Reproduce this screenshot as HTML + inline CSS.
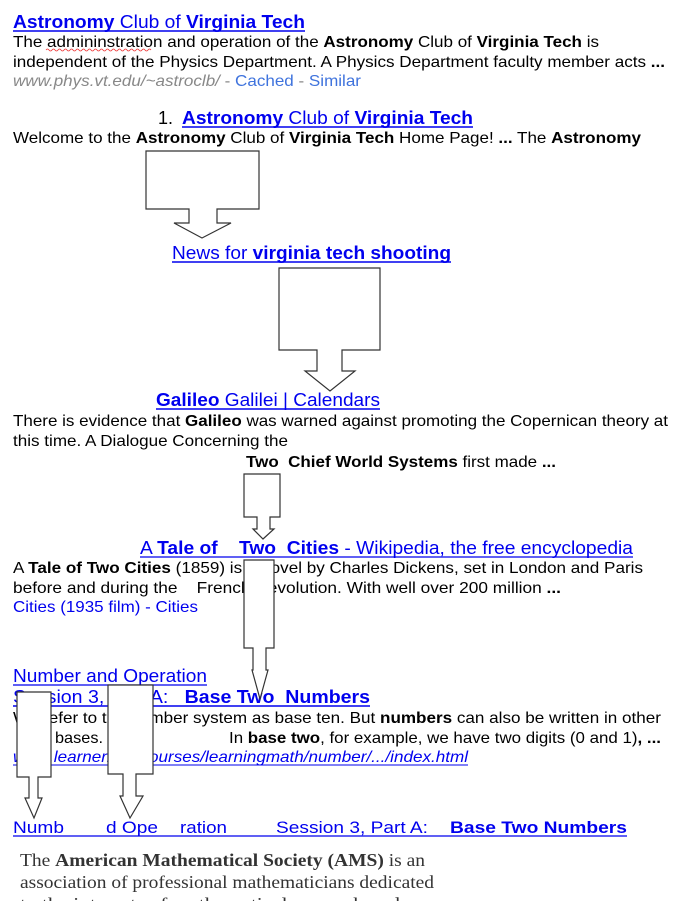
<!DOCTYPE html>
<html><head><meta charset="utf-8"><style>
html,body{margin:0;padding:0;background:#fff;width:696px;height:901px;overflow:hidden}
svg{display:block}
text{font-family:"Liberation Sans",Arial,sans-serif;font-size:16px;fill:#000;white-space:pre}
.t{font-size:18px;fill:#0000ee}
.b{font-weight:bold}
.l{fill:#0000ee;font-size:17px}
.s{font-family:"Liberation Serif","Times New Roman",serif;font-size:18px;fill:#333}
</style></head><body>
<svg width="696" height="901" viewBox="0 0 696 901" xmlns="http://www.w3.org/2000/svg" xml:space="preserve">
<g>
<text class="t" x="13" y="28" textLength="292" lengthAdjust="spacingAndGlyphs"><tspan class="b">Astronomy</tspan> Club of <tspan class="b">Virginia Tech</tspan></text>
<line x1="13" y1="31" x2="305" y2="31" stroke="#0000ee" stroke-width="1.5"/>
<text x="13" y="47" textLength="586" lengthAdjust="spacingAndGlyphs">The admininstration and operation of the <tspan class="b">Astronomy</tspan> Club of <tspan class="b">Virginia Tech</tspan> is</text>
<path d="M46 50 q1.5 -2 3 0 t3 0 t3 0 t3 0 t3 0 t3 0 t3 0 t3 0 t3 0 t3 0 t3 0 t3 0 t3 0 t3 0 t3 0 t3 0 t3 0 t3 0 t3 0 t3 0 t3 0 t3 0 t3 0 t3 0 t3 0 t3 0 t3 0 t3 0 t3 0 t3 0 t3 0 t3 0 t3 0 t3 0 t3 0" stroke="#e33" fill="none" stroke-width="0.8"/>
<text x="13" y="67" textLength="652" lengthAdjust="spacingAndGlyphs">independent of the Physics Department. A Physics Department faculty member acts <tspan class="b">...</tspan></text>
<text x="13" y="86" textLength="348" lengthAdjust="spacingAndGlyphs"><tspan style="fill:#888;font-style:italic">www.phys.vt.edu/~astroclb/</tspan><tspan style="fill:#888"> - </tspan><tspan style="fill:#3f73dd">Cached</tspan><tspan style="fill:#888"> - </tspan><tspan style="fill:#3f73dd">Similar</tspan></text>

<text x="158" y="124" style="font-size:18px">1.</text>
<text class="t" x="182" y="124" textLength="291" lengthAdjust="spacingAndGlyphs"><tspan class="b">Astronomy</tspan> Club of <tspan class="b">Virginia Tech</tspan></text>
<line x1="182" y1="127" x2="473" y2="127" stroke="#0000ee" stroke-width="1.5"/>
<text x="13" y="143" textLength="628" lengthAdjust="spacingAndGlyphs">Welcome to the <tspan class="b">Astronomy</tspan> Club of <tspan class="b">Virginia Tech</tspan> Home Page! <tspan class="b">...</tspan> The <tspan class="b">Astronomy</tspan></text>

<text class="t" x="172" y="259" textLength="279" lengthAdjust="spacingAndGlyphs">News for <tspan class="b">virginia tech shooting</tspan></text>
<line x1="172" y1="262" x2="451" y2="262" stroke="#0000ee" stroke-width="1.5"/>

<text class="t" x="156" y="406" textLength="224" lengthAdjust="spacingAndGlyphs"><tspan class="b">Galileo</tspan> Galilei | Calendars</text>
<line x1="156" y1="409" x2="380" y2="409" stroke="#0000ee" stroke-width="1.5"/>
<text x="13" y="426" textLength="655" lengthAdjust="spacingAndGlyphs">There is evidence that <tspan class="b">Galileo</tspan> was warned against promoting the Copernican theory at</text>
<text x="13" y="446" textLength="275" lengthAdjust="spacingAndGlyphs">this time. A Dialogue Concerning the</text>
<text x="246" y="467" textLength="310" lengthAdjust="spacingAndGlyphs"><tspan class="b">Two  Chief World Systems</tspan> first made <tspan class="b">...</tspan></text>

<text class="t" x="140" y="554" textLength="493" lengthAdjust="spacingAndGlyphs">A <tspan class="b">Tale of    Two  Cities</tspan> - Wikipedia, the free encyclopedia</text>
<line x1="140" y1="557" x2="633" y2="557" stroke="#0000ee" stroke-width="1.2"/>
<text x="13" y="573" textLength="630" lengthAdjust="spacingAndGlyphs">A <tspan class="b">Tale of Two Cities</tspan> (1859) is a novel by Charles Dickens, set in London and Paris</text>
<text x="13" y="593" textLength="548" lengthAdjust="spacingAndGlyphs">before and during the    French Revolution. With well over 200 million <tspan class="b">...</tspan></text>
<text x="13" y="612" textLength="185" lengthAdjust="spacingAndGlyphs" style="fill:#0000ee">Cities (1935 film) - Cities</text>

<text class="t" x="13" y="682" textLength="194" lengthAdjust="spacingAndGlyphs">Number and Operation</text>
<line x1="13" y1="685" x2="207" y2="685" stroke="#0000ee" stroke-width="1.2"/>
<text class="t" x="13" y="703" textLength="357" lengthAdjust="spacingAndGlyphs">Session 3, Part A:   <tspan class="b">Base Two  Numbers</tspan></text>
<line x1="13" y1="706" x2="370" y2="706" stroke="#0000ee" stroke-width="1.5"/>
<text x="13" y="723" textLength="648" lengthAdjust="spacingAndGlyphs">We refer to the number system as base ten. But <tspan class="b">numbers</tspan> can also be written in other</text>
<text x="55" y="743" textLength="48" lengthAdjust="spacingAndGlyphs">bases.</text>
<text x="229" y="743" textLength="432" lengthAdjust="spacingAndGlyphs">In <tspan class="b">base two</tspan>, for example, we have two digits (0 and 1)<tspan class="b">, ...</tspan></text>
<text x="13" y="762" textLength="455" lengthAdjust="spacingAndGlyphs" style="fill:#0000ee;font-style:italic">www.learner.org/courses/learningmath/number/.../index.html</text>
<line x1="13" y1="765" x2="468" y2="765" stroke="#0000ee" stroke-width="1"/>

<text class="l" x="13" y="833" textLength="51" lengthAdjust="spacingAndGlyphs">Numb</text>
<text class="l" x="106" y="833" textLength="52" lengthAdjust="spacingAndGlyphs">d Ope</text>
<text class="l" x="180" y="833" textLength="47" lengthAdjust="spacingAndGlyphs">ration</text>
<text class="l" x="276" y="833" textLength="152" lengthAdjust="spacingAndGlyphs">Session 3, Part A:</text>
<text class="l b" x="450" y="833" textLength="177" lengthAdjust="spacingAndGlyphs">Base Two Numbers</text>
<line x1="13" y1="836" x2="627" y2="836" stroke="#0000ee" stroke-width="1.2"/>

<text class="s" x="20" y="866" textLength="405" lengthAdjust="spacingAndGlyphs">The <tspan class="b">American Mathematical Society (AMS)</tspan> is an</text>
<text class="s" x="20" y="888" textLength="414" lengthAdjust="spacingAndGlyphs">association of professional mathematicians dedicated</text>
<text class="s" x="20" y="910" textLength="380" lengthAdjust="spacingAndGlyphs">to the interests of mathematical research and</text>
</g>
<g fill="#fff" stroke="#333" stroke-width="1.2">
<polygon points="146,151 259,151 259,209 217,209 217,223 231,223 202,238 174,223 189,223 189,209 146,209"/>
<polygon points="279,268 380,268 380,350 342,350 342,371 355,371 330,391 305,371 317,371 317,350 279,350"/>
<polygon points="244,474 280,474 280,517 270,517 270,529 274,529 263,539 253,529 257,529 257,517 244,517"/>
<polygon points="244,560 274,560 274,648 266,648 266,670 268,670 260,699 252,670 253,670 253,648 244,648"/>
<polygon points="17,692 51,692 51,777 38,777 38,798 42,798 34,818 25,798 29,798 29,777 17,777"/>
<polygon points="108,685 153,685 153,774 136,774 136,796 143,796 130,818 120,796 123,796 123,774 108,774"/>
</g>
</svg>
</body></html>
